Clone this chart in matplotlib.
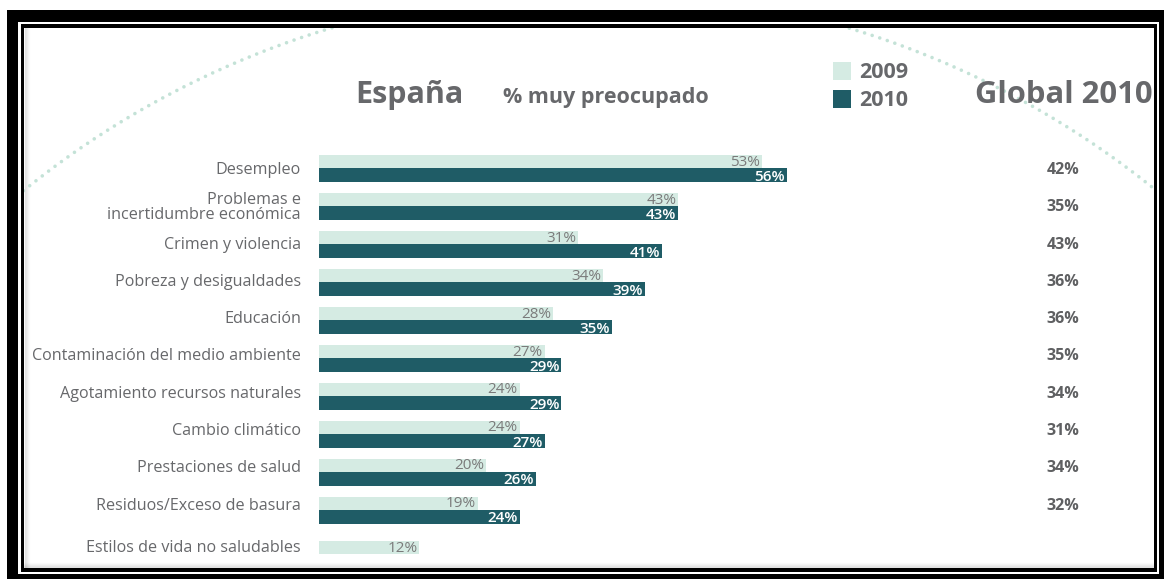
import numpy as np
import matplotlib
matplotlib.use("Agg")
import matplotlib.pyplot as plt
from matplotlib.patches import Rectangle
from matplotlib.transforms import blended_transform_factory

plt.rcParams['font.family'] = ['Open Sans', 'DejaVu Sans']

# categories (top to bottom) and % "muy preocupado"
categories = [
    "Desempleo",
    "Problemas e\nincertidumbre económica",
    "Crimen y violencia",
    "Pobreza y desigualdades",
    "Educación",
    "Contaminación del medio ambiente",
    "Agotamiento recursos naturales",
    "Cambio climático",
    "Prestaciones de salud",
    "Residuos/Exceso de basura",
    "Estilos de vida no saludables",
]
spain_2009 = [53, 43, 31, 34, 28, 27, 24, 24, 20, 19, 12]
spain_2010 = [56, 43, 41, 39, 35, 29, 29, 27, 26, 24, None]
global_2010 = [42, 35, 43, 36, 36, 35, 34, 31, 34, 32, None]

LIGHT = "#d5ebe3"
DARK = "#1f5c66"
GREY = "#67686b"

W, H = 1164, 579
fig = plt.figure(figsize=(W / 100, H / 100), dpi=100)

# background layer in pixel units: frame, dotted arc, headings
bg = fig.add_axes([0, 0, 1, 1], zorder=0)
bg.set_xlim(0, W)
bg.set_ylim(H, 0)
bg.axis("off")

bg.add_patch(Rectangle((6.7, 10), W - 6.7, H - 10, color="black", lw=0))
bg.add_patch(Rectangle((18.3, 21.7), 1159.3 - 18.3, 574.3 - 21.7, color="white", lw=0))
bg.add_patch(Rectangle((20.7, 24), 1157.3 - 20.7, 571.7 - 24, color="black", lw=0))
inner = Rectangle((24, 28.3), 1154 - 24, 567.7 - 28.3, color="white", lw=0)
bg.add_patch(inner)

# soft inner shadow along the left and bottom edges
for k, a in enumerate([0.10, 0.07, 0.05, 0.03, 0.015]):
    bg.plot([24 + k + 0.5] * 2, [28.3, 567.7], color="black", alpha=a, lw=1)
    bg.plot([24, 1154], [567.7 - k - 0.5] * 2, color="black", alpha=a, lw=1)

# large dotted circle behind the chart
t = np.linspace(0, 2 * np.pi, 3000)
arc, = bg.plot(590 + 900 * np.cos(t), 890 + 900 * np.sin(t),
               color="#c4e2d7", lw=2.6, linestyle=(0, (0.01, 2.2)),
               dash_capstyle="round")
arc.set_clip_path(inner)

bg.text(355, 95, "España", fontsize=22, fontweight="bold", color=GREY, va="center")
bg.text(503, 97, "% muy preocupado", fontsize=15.5, fontweight="bold", color=GREY, va="center")
bg.text(975, 95, "Global 2010", fontsize=22.3, fontweight="bold", color=GREY, va="center")

bg.add_patch(Rectangle((833, 62), 18, 18, color=LIGHT, lw=0))
bg.add_patch(Rectangle((833, 90), 18, 18, color=DARK, lw=0))
bg.text(859, 72, "2009", fontsize=15.5, fontweight="bold", color=GREY, va="center")
bg.text(859, 101, "2010", fontsize=15.5, fontweight="bold", color=GREY, va="center")

# main bar axes: 0% at x=319 px, 8.36 px per percent, rows 37.95 px apart
x0, x1 = 319, 1100
y_top, y_bot = 140, 560
row_px, row0 = 37.95, 168
ax = fig.add_axes([x0 / W, 1 - y_bot / H, (x1 - x0) / W, (y_bot - y_top) / H], zorder=1)
ax.patch.set_alpha(0)
ax.set_xlim(0, (x1 - x0) / 8.36)
ax.set_ylim((y_bot - row0) / row_px, (y_top - row0) / row_px)
ax.axis("off")

pos = np.arange(len(categories))
h09, h10 = 13 / row_px, 14 / row_px
off09, off10 = -6.5 / row_px, 7 / row_px
px = 1 / 8.36
# side texts sit on a slightly tighter pitch than the bars
text_pos = pos * 0.983 + 0.05
trans = blended_transform_factory(fig.transFigure, ax.transData)

for i, cat in enumerate(categories):
    v9, v10 = spain_2009[i], spain_2010[i]
    y9 = pos[i] + off09 if v10 is not None else pos[i]
    ax.barh(y9, v9, height=h09, color=LIGHT, left=0)
    ax.text(v9 - 2 * px, y9 + 0.02, f"{v9}%", ha="right", va="center",
            fontsize=11, color="#7a7a7a")
    if v10 is not None:
        y10 = pos[i] + off10
        ax.barh(y10, v10, height=h10, color=DARK, left=0)
        ax.text(v10 - 2 * px, y10 + 0.05, f"{v10}%", ha="right", va="center",
                fontsize=11, color="white", fontweight="semibold")
    label_y = text_pos[i] if v10 is not None else pos[i] + 0.02
    ax.text(-18 * px, label_y, cat, ha="right", va="center", fontsize=11.6,
            color=GREY, linespacing=0.95)
    if global_2010[i] is not None:
        fig.text(1063 / W, text_pos[i], f"{global_2010[i]}%", transform=trans,
                 ha="center", va="center", fontsize=11.5, fontweight="bold",
                 color="#5f6062")

fig.savefig("out.png", dpi=100)
